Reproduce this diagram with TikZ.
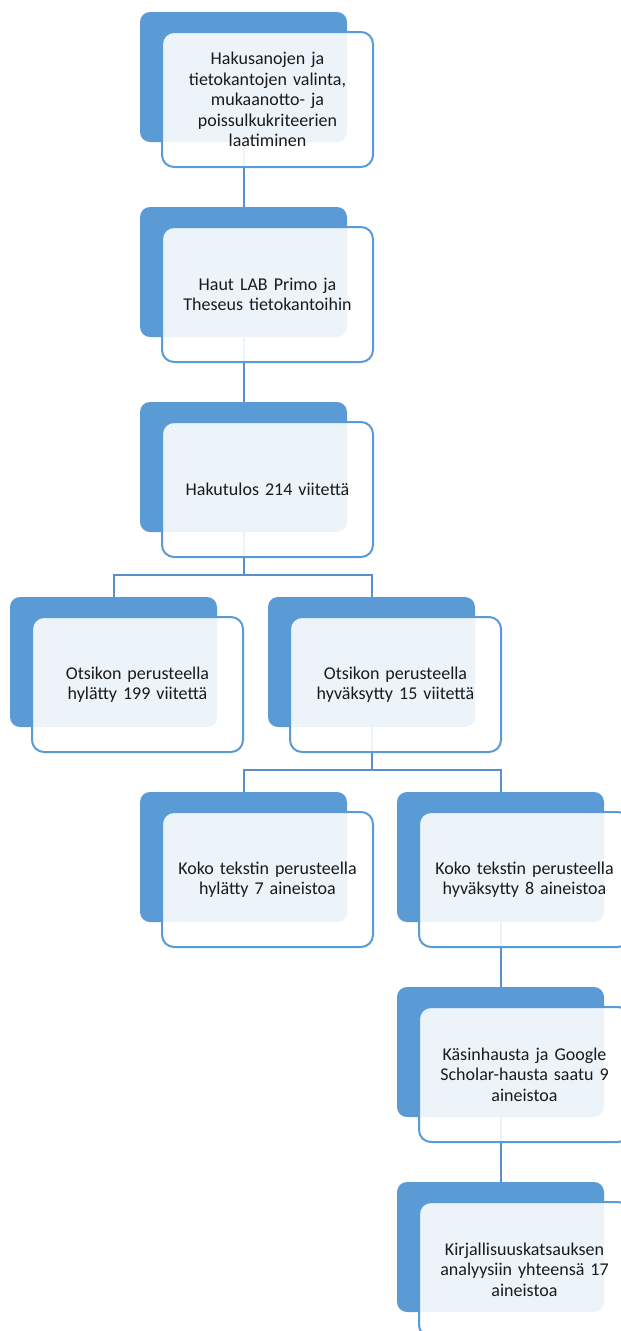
\documentclass[tikz,border=0pt]{standalone}
\usepackage{fontspec}
\setmainfont{Carlito}
\usetikzlibrary{positioning}
\definecolor{accent}{HTML}{5B9BD5}
\definecolor{linkblue}{HTML}{5890CB}
\definecolor{ink}{HTML}{1A1A1A}
\tikzset{
  backbox/.style={rectangle, rounded corners=10pt, fill=accent, inner sep=0pt, outer sep=0pt,
    minimum width=207pt, minimum height=130pt, anchor=north west},
  frontbox/.style={rectangle, rounded corners=12pt, fill=white, fill opacity=0.89, text opacity=1,
    draw=accent, line width=2pt, inner sep=0pt, outer sep=0pt,
    minimum width=211pt, minimum height=135pt, anchor=north west,
    text width=200pt, align=center, text=ink, font=\fontsize{18}{20.5}\selectfont},
  conn/.style={draw=linkblue, line width=2pt}
}
\begin{document}
\begin{tikzpicture}[x=1pt, y=-1pt]
  \useasboundingbox (0,0) rectangle (621,1331);
  \clip (0,0) rectangle (621,1331);
  % coloured back plates
  \node[backbox] (b1) at (140,12) {};
  \node[backbox] (b2) at (140,207) {};
  \node[backbox] (b3) at (140,402) {};
  \node[backbox] (b4) at (10,597) {};
  \node[backbox] (b5) at (268,597) {};
  \node[backbox] (b6) at (140,792) {};
  \node[backbox] (b7) at (397,792) {};
  \node[backbox] (b8) at (397,987) {};
  \node[backbox] (b9) at (397,1182) {};
  % connectors between the plates
  \coordinate (j1) at (243.5,575);
  \coordinate (j2) at (371.5,770);
  \draw[conn] (b1.south) -- (b2.north);
  \draw[conn] (b2.south) -- (b3.north);
  \draw[conn] (b3.south) -- (b3.south |- j1) -| (b4.north);
  \draw[conn] (b3.south |- j1) -| (b5.north);
  \draw[conn] (b5.south) -- (b5.south |- j2) -| (b6.north);
  \draw[conn] (b5.south |- j2) -| (b7.north);
  \draw[conn] (b7.south) -- (b8.north);
  \draw[conn] (b8.south) -- (b9.north);
  % translucent text cards
  \node[frontbox] (f1) at (162,32) {Hakusanojen ja\\tietokantojen valinta,\\mukaanotto- ja\\poissulkukriteerien\\laatiminen};
  \node[frontbox] (f2) at (162,227) {Haut LAB Primo ja\\Theseus tietokantoihin};
  \node[frontbox] (f3) at (162,422) {Hakutulos 214 viitettä};
  \node[frontbox] (f4) at (32,617) {Otsikon perusteella\\hylätty 199 viitettä};
  \node[frontbox] (f5) at (290,617) {Otsikon perusteella\\hyväksytty 15 viitettä};
  \node[frontbox] (f6) at (162,812) {Koko tekstin perusteella\\hylätty 7 aineistoa};
  \node[frontbox] (f7) at (419,812) {Koko tekstin perusteella\\hyväksytty 8 aineistoa};
  \node[frontbox] (f8) at (419,1007) {Käsinhausta ja Google\\Scholar-hausta saatu 9\\aineistoa};
  \node[frontbox] (f9) at (419,1202) {Kirjallisuuskatsauksen\\analyysiin yhteensä 17\\aineistoa};
\end{tikzpicture}
\end{document}
